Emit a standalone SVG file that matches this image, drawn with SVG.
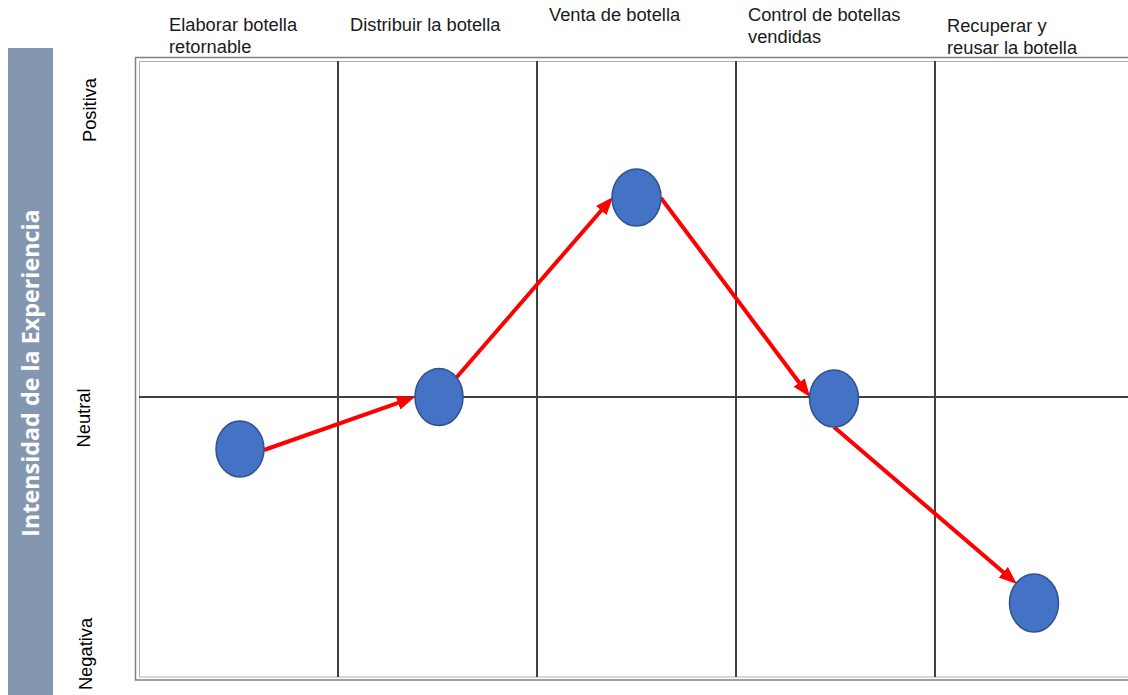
<svg xmlns="http://www.w3.org/2000/svg" width="1128" height="695" viewBox="0 0 1128 695">
<style>
.hdr{font-family:"Liberation Sans",Arial,sans-serif;font-size:18.3px;fill:#1a1a1a}
.axis{font-family:"Liberation Sans",Arial,sans-serif;font-size:18.3px;fill:#000}
.grid{stroke:#404040;stroke-width:2;fill:none}
.node{fill:#4472C4;stroke:#2F528F;stroke-width:1.5}
.arrow{stroke:#FF0000;stroke-width:4;fill:none;marker-end:url(#ah)}
</style>
<defs>
<marker id="ah" markerUnits="userSpaceOnUse" markerWidth="18" markerHeight="14" refX="7" refY="7" orient="auto">
<path d="M0,0 L18,7 L0,14 Z" fill="#FF0000"/>
</marker>
</defs>
<rect width="1128" height="695" fill="#fff"/>
<g id="sidebar">
<rect x="8" y="48" width="45" height="647" fill="#8497B0"/>
<text transform="translate(39,373) rotate(-90)" text-anchor="middle" font-family="'Open Sans',sans-serif" font-weight="bold" font-size="23.3" fill="#fff">Intensidad de la Experiencia</text>
</g>
<g id="axis-labels">
<text class="axis" transform="translate(96,110) rotate(-90)" text-anchor="middle">Positiva</text>
<text class="axis" transform="translate(90,418) rotate(-90)" text-anchor="middle">Neutral</text>
<text class="axis" transform="translate(92,654) rotate(-90)" text-anchor="middle">Negativa</text>
</g>
<g id="headers">
<text class="hdr" x="169" y="31">Elaborar botella</text>
<text class="hdr" x="169" y="53">retornable</text>
<text class="hdr" x="350" y="31">Distribuir la botella</text>
<text class="hdr" x="549" y="21">Venta de botella</text>
<text class="hdr" x="748" y="21">Control de botellas</text>
<text class="hdr" x="748" y="43">vendidas</text>
<text class="hdr" x="947" y="32">Recuperar y</text>
<text class="hdr" x="947" y="54">reusar la botella</text>
</g>
<g id="grid">
<rect x="135.5" y="57.5" width="1010" height="622.5" fill="none" stroke="#808080" stroke-width="1.5"/>
<rect x="139.5" y="61.5" width="1010" height="615.5" fill="none" stroke="#b0b0b0" stroke-width="1"/>
<line class="grid" x1="338" y1="61" x2="338" y2="677"/>
<line class="grid" x1="537" y1="61" x2="537" y2="677"/>
<line class="grid" x1="736" y1="61" x2="736" y2="677"/>
<line class="grid" x1="935" y1="61" x2="935" y2="677"/>
<line class="grid" x1="139" y1="397" x2="1128" y2="397"/>
</g>
<g id="connectors">
<line class="arrow" x1="264" y1="450" x2="404.6" y2="400.6"/>
<line class="arrow" x1="456" y1="378" x2="605.8" y2="205.3"/>
<line class="arrow" x1="661" y1="198" x2="803.4" y2="388.2"/>
<line class="arrow" x1="834" y1="427" x2="1008.6" y2="576.8"/>
</g>
<g id="node1"><ellipse class="node" cx="240" cy="449" rx="24" ry="28"/></g>
<g id="node2"><ellipse class="node" cx="439" cy="397" rx="24" ry="28.5"/></g>
<g id="node3"><ellipse class="node" cx="636.5" cy="197.5" rx="24.5" ry="28.5"/></g>
<g id="node4"><ellipse class="node" cx="834" cy="398.5" rx="24.5" ry="28.5"/></g>
<g id="node5"><ellipse class="node" cx="1034" cy="603" rx="24.5" ry="29"/></g>
</svg>
